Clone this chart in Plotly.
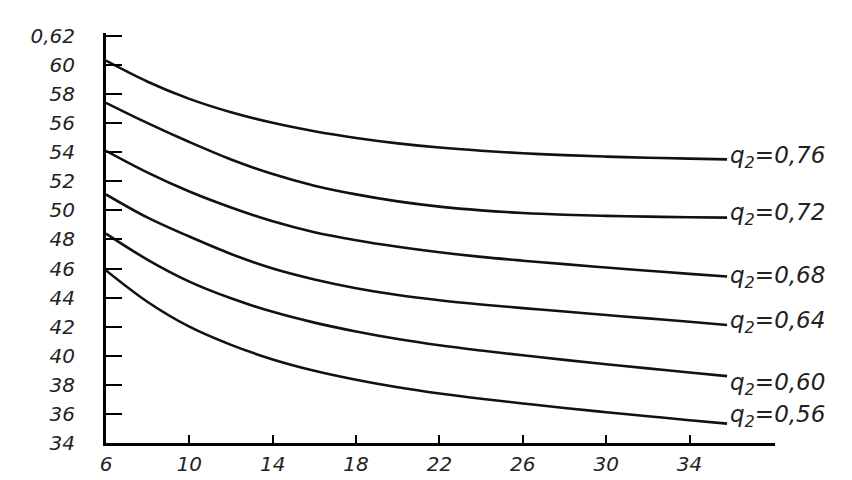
import plotly.graph_objects as go

x_vals = [6, 8, 10, 12, 14, 16, 18, 20, 22, 24, 26, 28, 30, 32, 34, 35.8]

q2_076 = [0.603, 0.5885, 0.5767, 0.5675, 0.5602, 0.5544, 0.5498, 0.5461, 0.5432, 0.541, 0.5393, 0.538, 0.537, 0.5362, 0.5356, 0.5351]
q2_072 = [0.574, 0.560, 0.547, 0.535, 0.525, 0.517, 0.511, 0.5062, 0.5026, 0.500, 0.4982, 0.497, 0.4962, 0.4957, 0.4953, 0.495]
q2_068 = [0.541, 0.526, 0.513, 0.502, 0.4925, 0.485, 0.4795, 0.475, 0.4712, 0.468, 0.4654, 0.463, 0.4607, 0.4585, 0.4563, 0.4545]
q2_064 = [0.511, 0.495, 0.482, 0.470, 0.460, 0.4525, 0.4465, 0.4418, 0.4382, 0.4353, 0.4328, 0.4304, 0.428, 0.4257, 0.4234, 0.4212]
q2_060 = [0.484, 0.466, 0.451, 0.4395, 0.4302, 0.4228, 0.4167, 0.4115, 0.4072, 0.4036, 0.4003, 0.3972, 0.3942, 0.3913, 0.3885, 0.386]
q2_056 = [0.4587, 0.437, 0.420, 0.4075, 0.3975, 0.3897, 0.3835, 0.3783, 0.374, 0.3704, 0.3672, 0.3641, 0.3612, 0.3584, 0.3557, 0.3533]

series = [q2_076, q2_072, q2_068, q2_064, q2_060, q2_056]
series_labels = ["0,76", "0,72", "0,68", "0,64", "0,60", "0,56"]
label_y = [0.5367, 0.4973, 0.454, 0.4233, 0.3807, 0.3587]

x_ticks = [6, 10, 14, 18, 22, 26, 30, 34]
x_ticktext = ["6", "10", "14", "18", "22", "26", "30", "34"]
y_ticks = [0.34, 0.36, 0.38, 0.40, 0.42, 0.44, 0.46, 0.48, 0.50, 0.52, 0.54, 0.56, 0.58, 0.60, 0.62]
y_ticktext = ["34", "36", "38", "40", "42", "44", "46", "48", "50", "52", "54", "56", "58", "60", "0,62"]

fig = go.Figure()
for ys in series:
    fig.add_trace(go.Scatter(x=x_vals, y=ys, mode="lines",
                             line=dict(color="#111", width=2.6, shape="spline", smoothing=1.0),
                             showlegend=False, hoverinfo="skip"))

for lab, ly in zip(series_labels, label_y):
    fig.add_annotation(x=35.85, y=ly, xref="x", yref="y", xanchor="left", yanchor="middle",
                       text=f"<i>q<sub>2</sub>={lab}</i>", showarrow=False,
                       font=dict(size=23, color="#222", family="DejaVu Sans"))

fig.update_layout(
    width=852, height=480,
    margin=dict(l=98, r=85, t=25, b=32),
    paper_bgcolor="white", plot_bgcolor="white",
    font=dict(family="DejaVu Sans", size=20, color="#222"),
)
fig.update_xaxes(range=[6, 38.1], tickvals=x_ticks, ticktext=[f"<i>{t}</i>" for t in x_ticktext],
                 ticks="inside", ticklen=8, tickwidth=2, tickcolor="black",
                 showline=True, linecolor="black", linewidth=2.5, showgrid=False, zeroline=False,
                 ticklabelstandoff=1)
fig.update_yaxes(range=[0.34, 0.622], tickvals=y_ticks, ticktext=[f"<i>{t}</i>" for t in y_ticktext],
                 ticks="inside", ticklen=16, tickwidth=2, tickcolor="black",
                 showline=True, linecolor="black", linewidth=3, showgrid=False, zeroline=False,
                 ticklabelstandoff=24)

fig.write_html("out.html")
